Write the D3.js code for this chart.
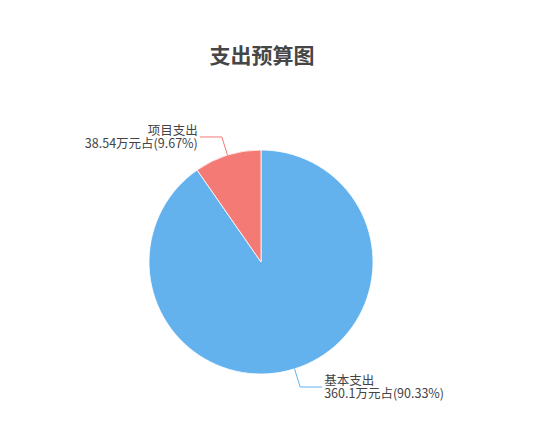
<!DOCTYPE html>
<html>
<head>
<meta charset="utf-8">
<script src="https://cdn.jsdelivr.net/npm/d3@7"></script>
<style>
  html, body { margin: 0; padding: 0; background: #fff; }
  svg { display: block; font-family: "Noto Sans CJK SC", "Noto Sans", sans-serif; }
</style>
</head>
<body>
<svg id="chart"></svg>
<script>
// data
const categories = ["基本支出", "项目支出"];
const values = [360.1, 38.54];
const percents = ["90.33%", "9.67%"];
const colors = ["#63b2ee", "#f47a75"];
const title = "支出预算图";

const width = 558, height = 443;
const cx = 261, cy = 262, radius = 112;

const svg = d3.select("#chart")
  .attr("width", width)
  .attr("height", height);

svg.append("text")
  .attr("x", 262)
  .attr("y", 54)
  .attr("text-anchor", "middle")
  .attr("dominant-baseline", "central")
  .attr("font-size", 21)
  .attr("font-weight", "bold")
  .attr("fill", "#464646")
  .text(title);

const data = categories.map((c, i) => ({ name: c, value: values[i], pct: percents[i], color: colors[i] }));

const pie = d3.pie().sort(null).value(d => d.value);
const arcs = pie(data);

const arc = d3.arc().innerRadius(0).outerRadius(radius);

const g = svg.append("g").attr("transform", `translate(${cx},${cy})`);

g.selectAll("path.slice")
  .data(arcs)
  .join("path")
  .attr("class", "slice")
  .attr("d", arc)
  .attr("fill", d => d.data.color)
  .attr("stroke", "#fff")
  .attr("stroke-width", 0.8);

// label lines + two-line labels
const r1 = radius, r2 = radius + 19, len2 = 22;
arcs.forEach(d => {
  const mid = (d.startAngle + d.endAngle) / 2;
  const sx = Math.sin(mid), sy = -Math.cos(mid);
  const p1 = [r1 * sx, r1 * sy];
  const p2 = [r2 * sx, r2 * sy];
  const right = sx > 0;
  const p3 = [p2[0] + (right ? len2 : -len2), p2[1]];
  g.append("polyline")
    .attr("points", [p1, p2, p3].map(p => p.join(",")).join(" "))
    .attr("fill", "none")
    .attr("stroke", d.data.color)
    .attr("stroke-width", 1);

  const tx = p3[0] + (right ? 2 : -2);
  const lines = [d.data.name, `${d.data.value}万元占(${d.data.pct})`];
  lines.forEach((s, i) => {
    g.append("text")
      .attr("x", tx)
      .attr("y", p3[1] - 8 + i * 13)
      .attr("dominant-baseline", "central")
      .attr("text-anchor", right ? "start" : "end")
      .attr("font-size", 12.5)
      .attr("fill", "#444")
      .text(s);
  });
});
</script>
</body>
</html>
